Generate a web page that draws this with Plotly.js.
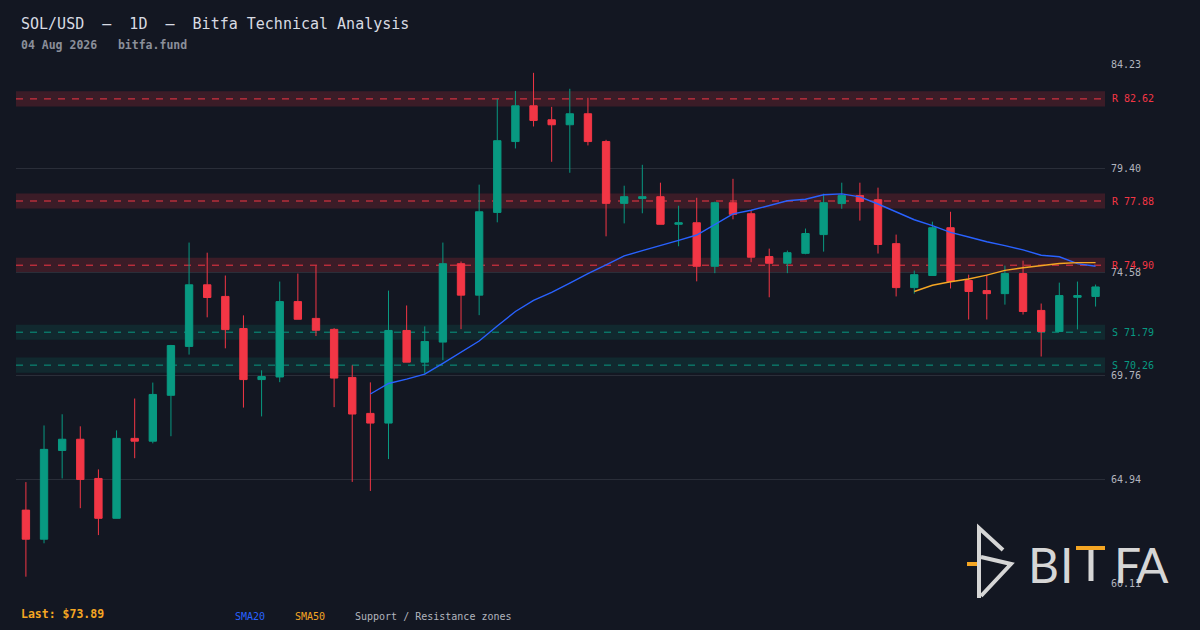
<!DOCTYPE html>
<html>
<head>
<meta charset="utf-8">
<script src="https://cdn.plot.ly/plotly-3.0.1.min.js"></script>
<style>
  html, body { margin: 0; padding: 0; background: #131722; }
  #chart { width: 1200px; height: 630px; }
</style>
</head>
<body>
<div id="chart"></div>
<script>
// ---- data ----
const openV  = [63.53,62.18,66.30,66.82,65.00,63.15,66.86,66.73,68.86,71.13,73.99,73.45,71.96,69.59,69.71,73.21,72.43,71.92,69.69,68.02,67.57,71.87,70.40,71.33,74.97,73.51,77.35,80.64,82.30,81.65,81.42,81.93,80.64,77.77,78.00,78.08,76.80,76.87,74.85,77.80,77.29,75.30,74.99,75.45,76.32,77.76,78.13,77.94,75.90,73.86,74.42,76.64,74.19,73.72,73.58,74.51,72.80,71.82,73.41,73.45];
const highV  = [64.83,67.46,67.98,67.42,65.42,67.23,68.71,69.45,71.20,75.95,75.48,74.42,72.57,70.02,74.14,74.51,74.88,71.98,70.25,69.46,73.72,73.03,72.06,75.95,75.07,78.64,82.61,82.99,83.83,82.25,83.09,82.67,80.72,78.59,79.56,78.73,77.66,78.03,77.85,78.91,77.43,75.67,75.58,76.60,78.22,78.73,78.73,78.50,76.32,74.65,76.92,77.38,74.46,74.46,74.88,75.11,73.12,74.09,74.14,74.00];
const lowV   = [60.44,61.99,65.00,63.62,62.37,63.15,65.94,66.63,66.96,70.75,72.48,71.04,68.29,67.88,69.47,72.39,71.61,68.31,64.84,64.42,65.90,70.40,69.86,70.49,71.93,72.58,76.89,80.32,81.34,79.70,79.19,80.46,76.24,76.84,77.31,76.80,75.78,74.15,74.53,77.03,75.04,73.41,74.53,75.41,75.53,77.52,76.97,75.44,73.45,73.58,74.42,73.82,72.38,72.38,73.07,72.61,70.66,71.82,71.92,72.98];
const closeV = [62.18,66.35,66.82,64.95,63.15,66.86,66.73,68.90,71.17,73.99,73.40,71.91,69.59,69.73,73.21,72.39,71.88,69.66,67.99,67.57,71.87,70.40,71.36,74.97,73.51,77.38,80.68,82.30,81.62,81.42,81.93,80.64,77.77,78.08,78.08,76.80,76.87,74.85,77.80,77.26,75.27,74.99,75.48,76.37,77.80,78.13,77.86,75.86,73.86,74.46,76.64,74.14,73.68,73.58,74.51,72.75,71.82,73.49,73.49,73.89];
const sma20 = [null,null,null,null,null,null,null,null,null,null,null,null,null,null,null,null,null,null,null,
  68.92,69.41,69.61,69.84,70.34,70.85,71.38,72.08,72.75,73.27,73.64,74.07,74.51,74.91,75.33,75.58,75.80,76.05,76.30,76.80,77.28,77.45,77.68,77.89,77.96,78.17,78.21,78.07,77.74,77.36,77.01,76.74,76.42,76.21,75.99,75.81,75.61,75.36,75.29,74.97,74.85];
const sma50 = [null,null,null,null,null,null,null,null,null,null,null,null,null,null,null,null,null,null,null,null,
  null,null,null,null,null,null,null,null,null,null,null,null,null,null,null,null,null,null,null,null,
  null,null,null,null,null,null,null,null,null,
  73.68,73.97,74.13,74.26,74.44,74.66,74.78,74.88,74.98,75.02,75.02];
const resistance = [82.62, 77.88, 74.90];
const support    = [71.79, 70.26];
const tickVals   = [60.11, 64.94, 69.76, 74.58, 79.40, 84.23];
const tickText   = ["60.11", "64.94", "69.76", "74.58", "79.40", "84.23"];
const lastPrice  = "73.89";

// ---- styling ----
const BG = '#131722', UP = '#089981', DN = '#f23645', BLUE = '#2962ff', ORANGE = '#f5a623';
const MONO = 'DejaVu Sans Mono, monospace';
const L = 16, R = 95, T = 64, B = 46, W = 1200, H = 630;
const PW = W - L - R, PH = H - T - B;
const PX = x => (x - L) / PW;
const PY = y => (H - B - y) / PH;
const idx = closeV.map((_, i) => i);

const traces = [
  {
    type: 'candlestick', x: idx, open: openV, high: highV, low: lowV, close: closeV,
    increasing: { line: { color: UP, width: 1 }, fillcolor: UP },
    decreasing: { line: { color: DN, width: 1 }, fillcolor: DN },
    whiskerwidth: 0, hoverinfo: 'skip'
  },
  { type: 'scatter', mode: 'lines', x: idx, y: sma20, line: { color: BLUE, width: 1.4 }, hoverinfo: 'skip' },
  { type: 'scatter', mode: 'lines', x: idx, y: sma50, line: { color: ORANGE, width: 1.4 }, hoverinfo: 'skip' }
];

const shapes = [];
const annotations = [];
const HALF = 0.35;
function zone(level, kind) {
  const col = kind === 'R' ? DN : UP;
  const fill = kind === 'R' ? 'rgba(242,54,69,0.18)' : 'rgba(8,153,129,0.14)';
  shapes.push({ type: 'rect', xref: 'paper', yref: 'y', x0: 0, x1: 1, y0: level - HALF, y1: level + HALF,
    fillcolor: fill, line: { width: 0 }, layer: 'below' });
  shapes.push({ type: 'line', xref: 'paper', yref: 'y', x0: 0, x1: 1, y0: level, y1: level,
    line: { color: col, width: 1, dash: '7px,7px' }, layer: 'below' });
  annotations.push({ xref: 'paper', yref: 'y', x: 1, y: level, xanchor: 'left', yanchor: 'middle', xshift: 5,
    text: kind + ' ' + level.toFixed(2), showarrow: false, font: { family: MONO, size: 10, color: col } });
}
resistance.forEach(v => zone(v, 'R'));
support.forEach(v => zone(v, 'S'));

function txt(text, x, y, size, color, weight, family, anchor) {
  annotations.push({ xref: 'paper', yref: 'paper', x: PX(x), y: PY(y), xanchor: anchor || 'left', yanchor: 'middle',
    text: text, showarrow: false, font: { family: family || MONO, size: size, color: color, weight: weight || 'normal' } });
}
txt('SOL/USD  —  1D  —  Bitfa Technical Analysis', 19, 24, 15, '#d8dbe2');
txt('04 Aug 2026   bitfa.fund', 19, 45, 11.5, '#8b8f9a', 'bold');
txt('Last: $' + lastPrice, 19, 614, 11.5, ORANGE, 'bold');
txt('SMA20', 233, 616, 10, BLUE);
txt('SMA50', 293, 616, 10, ORANGE);
txt('Support / Resistance zones', 353, 616, 10, '#b2b5be');

// ---- logo watermark ----
const LOGO = '#d6d6d6';
function poly(pts, color, width) {
  const d = pts.map((p, i) => (i ? 'L' : 'M') + PX(p[0]) + ',' + PY(p[1])).join(' ');
  shapes.push({ type: 'path', xref: 'paper', yref: 'paper', path: d, line: { color: color, width: width } });
}
poly([[979, 598], [979, 528], [1003, 550]], LOGO, 4);
poly([[981, 557], [1011, 564], [981, 596]], LOGO, 4);
poly([[967, 564], [977, 564]], ORANGE, 4);
txt('B', 1043, 564, 48, LOGO, 'normal', 'Lato', 'center');
txt('I', 1066, 564, 48, LOGO, 'normal', 'Lato', 'center');
poly([[1091, 550], [1091, 581]], LOGO, 5);
poly([[1076, 548], [1105, 548]], ORANGE, 4);
txt('F', 1127, 564, 48, LOGO, 'normal', 'Lato', 'center');
txt('A', 1152, 564, 48, LOGO, 'normal', 'Lato', 'center');

const layout = {
  width: W, height: H,
  paper_bgcolor: BG, plot_bgcolor: BG,
  margin: { l: L, r: R, t: T, b: B },
  showlegend: false,
  hovermode: false,
  boxgap: 0.42,
  xaxis: { range: [-0.546, 59.52], visible: false, rangeslider: { visible: false }, fixedrange: true },
  yaxis: {
    side: 'right', range: [60.10, 84.24], tickmode: 'array', tickvals: tickVals, ticktext: tickText,
    gridcolor: '#2a2e39', gridwidth: 1, zeroline: false, showline: false, ticks: '',
    ticklabelstandoff: 5,
    tickfont: { family: MONO, size: 10, color: '#b2b5be' }, fixedrange: true
  },
  shapes: shapes,
  annotations: annotations
};

Plotly.newPlot('chart', traces, layout, { displayModeBar: false, staticPlot: true });
</script>
</body>
</html>
